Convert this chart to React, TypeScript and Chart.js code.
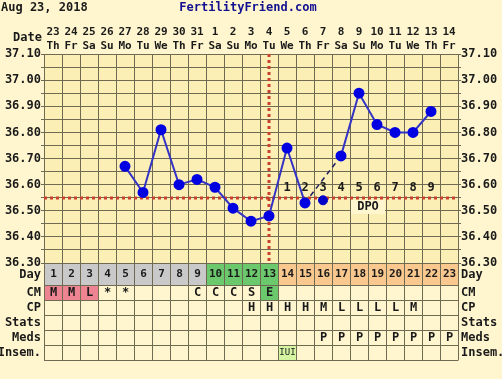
import React, { useEffect, useRef } from 'react';
import { Chart, registerables } from 'chart.js';

Chart.register(...registerables);

// ---------- data ----------
const chartDate = 'Aug 23, 2018';
const siteName = 'FertilityFriend.com';
const dayNumbers = ['1','2','3','4','5','6','7','8','9','10','11','12','13','14','15','16','17','18','19','20','21','22','23'];
const dates = ['23','24','25','26','27','28','29','30','31','1','2','3','4','5','6','7','8','9','10','11','12','13','14'];
const weekdays = ['Th','Fr','Sa','Su','Mo','Tu','We','Th','Fr','Sa','Su','Mo','Tu','We','Th','Fr','Sa','Su','Mo','Tu','We','Th','Fr'];
const temps = [null,null,null,null,36.67,36.57,36.81,36.60,36.62,36.59,36.51,36.46,36.48,36.74,36.53,null,36.71,36.95,36.83,36.80,36.80,36.88,null];
const discardedTemps = [null,null,null,null,null,null,null,null,null,null,null,null,null,null,null,36.54,null,null,null,null,null,null,null];
const bridgeTemps = [null,null,null,null,null,null,null,null,null,null,null,null,null,null,36.53,null,36.71,null,null,null,null,null,null];
const coverline = 36.55;
const ovulationDay = 13;
const dpoLabels = ['1','2','3','4','5','6','7','8','9'];
const dpoStartDay = 14;
const yMin = 36.30;
const yMax = 37.10;
const yStep = 0.05;
const dayPhase = ['p','p','p','p','p','p','p','p','p','f','f','f','f','l','l','l','l','l','l','l','l','l','l'];
const cm = ['M','M','L','*','*','','','','C','C','C','S','E','','','','','','','','','',''];
const cp = ['','','','','','','','','','','','H','H','H','H','M','L','L','L','L','M','',''];
const stats = ['','','','','','','','','','','','','','','','','','','','','','',''];
const meds = ['','','','','','','','','','','','','','','','P','P','P','P','P','P','P','P'];
const insem = ['','','','','','','','','','','','','','IUI','','','','','','','','',''];
const rowLabels = ['Day','CM','CP','Stats','Meds','Insem.'];

// ---------- styles ----------
const PAGE_BG = '#FFF6CF';
const PLOT_BG = '#FCEFB6';
const GRID = '#6F6B52';
const TEXT = '#1a1a1a';
const RED = '#C8412E';
const FONT = 'DejaVu Sans Mono';
const phaseColor: Record<string, string> = { p: '#C9C9C9', f: '#6CC86C', l: '#F8C88E' };

export default function App() {
  const ref = useRef<HTMLCanvasElement | null>(null);

  useEffect(() => {
    document.body.style.margin = '0';
    document.body.style.background = PAGE_BG;
    const canvas = ref.current;
    if (!canvas) return;

    const decor = {
      id: 'ffDecor',
      beforeDraw(chart: any) {
        const { ctx, chartArea: a } = chart;
        ctx.save();
        ctx.fillStyle = PAGE_BG;
        ctx.fillRect(0, 0, chart.width, chart.height);
        ctx.fillStyle = PLOT_BG;
        ctx.fillRect(a.left, a.top, a.right - a.left, a.bottom - a.top);
        ctx.restore();
      },
      beforeDatasetsDraw(chart: any) {
        const { ctx, chartArea: a } = chart;
        const x = chart.scales.x;
        const y = chart.scales.y;
        ctx.save();
        ctx.strokeStyle = RED;
        ctx.lineWidth = 3;
        ctx.setLineDash([3, 3]);
        const cy = Math.round(y.getPixelForValue(coverline));
        ctx.beginPath();
        ctx.moveTo(a.left, cy);
        ctx.lineTo(a.right, cy);
        ctx.stroke();
        const vx = Math.round(x.getPixelForValue(ovulationDay - 1));
        ctx.beginPath();
        ctx.moveTo(vx, a.top);
        ctx.lineTo(vx, a.bottom);
        ctx.stroke();
        ctx.restore();

        // DPO labels
        ctx.save();
        ctx.font = `bold 12px ${FONT}`;
        ctx.fillStyle = TEXT;
        ctx.textAlign = 'center';
        ctx.textBaseline = 'middle';
        dpoLabels.forEach((t, i) => {
          const px = x.getPixelForValue(dpoStartDay - 1 + i);
          ctx.fillText(t, px, cy - 10);
        });
        const mid = (x.getPixelForValue(dpoStartDay - 1) + x.getPixelForValue(dayNumbers.length - 1)) / 2;
        ctx.fillStyle = PAGE_BG;
        ctx.fillRect(mid - 17, cy + 2, 34, 14);
        ctx.fillStyle = TEXT;
        ctx.fillText('DPO', mid, cy + 9);
        ctx.restore();
      },
      afterDraw(chart: any) {
        const { ctx, chartArea: a } = chart;
        const x = chart.scales.x;
        const colW = x.getPixelForValue(1) - x.getPixelForValue(0);
        ctx.save();
        // header
        ctx.font = `bold 12px ${FONT}`;
        ctx.textBaseline = 'middle';
        ctx.textAlign = 'left';
        ctx.fillStyle = TEXT;
        ctx.fillText(chartDate, 1, 8);
        ctx.textAlign = 'center';
        ctx.fillStyle = '#101090';
        ctx.fillText(siteName, 248, 8);
        ctx.textAlign = 'right';
        ctx.fillStyle = TEXT;
        ctx.fillText('Date', 42, 38);

        // table
        const rows = [
          { h: 22, cells: dayNumbers, bg: (i: number) => phaseColor[dayPhase[i]], font: `bold 11px ${FONT}` },
          { h: 15, cells: cm, bg: (i: number) => (cm[i] === 'M' || (cm[i] === 'L' && i < 5)) ? '#EE8492' : (cm[i] === 'E' ? '#6CC86C' : ''), font: `bold 12px ${FONT}` },
          { h: 15, cells: cp, bg: () => '', font: `bold 12px ${FONT}` },
          { h: 15, cells: stats, bg: () => '', font: `bold 12px ${FONT}` },
          { h: 15, cells: meds, bg: () => '', font: `bold 12px ${FONT}` },
          { h: 15, cells: insem, bg: (i: number) => insem[i] ? '#D6F5A2' : '', font: `9px ${FONT}` },
        ];
        let top = Math.round(a.bottom);
        const bounds: number[] = [top];
        rows.forEach((r, ri) => {
          r.cells.forEach((t, i) => {
            const cx = x.getPixelForValue(i);
            const left = Math.round(cx - colW / 2);
            const right = Math.round(cx + colW / 2);
            const c = r.bg(i);
            if (c) {
              ctx.fillStyle = c;
              ctx.fillRect(left, top, right - left, r.h);
            }
            if (t) {
              ctx.fillStyle = TEXT;
              ctx.textAlign = 'center';
              ctx.font = r.font;
              ctx.fillText(t, cx + 0.5, top + r.h / 2 + 0.5);
            }
          });
          ctx.font = `bold 12px ${FONT}`;
          ctx.fillStyle = TEXT;
          ctx.textAlign = 'right';
          ctx.fillText(rowLabels[ri], 41, top + r.h / 2 + 0.5);
          ctx.textAlign = 'left';
          ctx.fillText(rowLabels[ri], 461, top + r.h / 2 + 0.5);
          top += r.h;
          bounds.push(top);
        });
        ctx.strokeStyle = GRID;
        ctx.lineWidth = 1;
        ctx.beginPath();
        bounds.forEach((b) => {
          ctx.moveTo(a.left, b + 0.5);
          ctx.lineTo(a.right, b + 0.5);
        });
        for (let i = 0; i <= dayNumbers.length; i++) {
          const px = Math.round(x.getPixelForValue(i) - colW / 2) + 0.5;
          ctx.moveTo(px, bounds[0]);
          ctx.lineTo(px, bounds[bounds.length - 1] + 0.5);
        }
        ctx.stroke();
        ctx.restore();
      },
    };

    const tickFont = { family: FONT, size: 12, weight: 'bold' as const };
    const yTicks = {
      stepSize: yStep,
      autoSkip: false,
      padding: 0,
      color: TEXT,
      font: tickFont,
      callback: (v: any) => (Math.round(Number(v) * 20) % 2 === 0 ? Number(v).toFixed(2) : ''),
    };

    const chart = new Chart(canvas, {
      type: 'line',
      data: {
        labels: dayNumbers,
        datasets: [
          {
            data: temps as any,
            borderColor: '#3434C4',
            borderWidth: 2,
            pointRadius: 4.5,
            pointBackgroundColor: '#0000E0',
            pointBorderColor: '#0000E0',
            spanGaps: false,
            xAxisID: 'x',
            yAxisID: 'y',
            order: 1,
          },
          {
            data: discardedTemps as any,
            showLine: false,
            pointRadius: 4.5,
            pointBackgroundColor: '#0000C8',
            pointBorderColor: '#0000C8',
            xAxisID: 'x',
            yAxisID: 'y',
            order: 1,
          },
          {
            data: bridgeTemps as any,
            borderColor: '#1c1c60',
            borderWidth: 1.5,
            borderDash: [5, 4],
            pointRadius: 0,
            spanGaps: true,
            xAxisID: 'x',
            yAxisID: 'y',
            order: 2,
          },
        ],
      },
      options: {
        animation: false,
        responsive: false,
        maintainAspectRatio: false,
        layout: { padding: 0 },
        plugins: { legend: { display: false }, title: { display: false }, tooltip: { enabled: false } },
        scales: {
          x: {
            type: 'category',
            position: 'bottom',
            offset: true,
            grid: { color: GRID, offset: true, drawTicks: false, lineWidth: 1 },
            border: { color: GRID },
            ticks: { display: false },
            afterFit: (s: any) => { s.height = 116; },
          },
          xTop: {
            type: 'category',
            position: 'top',
            labels: dates.map((d, i) => [d, weekdays[i]]),
            offset: true,
            grid: { display: false },
            border: { display: false },
            ticks: { autoSkip: false, maxRotation: 0, padding: -7, color: TEXT, font: { family: FONT, size: 11, weight: 'bold', lineHeight: 1.273 } },
            afterFit: (s: any) => { s.height = 54; },
          },
          y: {
            type: 'linear',
            position: 'left',
            min: yMin,
            max: yMax,
            grid: { color: GRID, tickLength: 3, lineWidth: 1 },
            border: { color: GRID },
            ticks: yTicks,
            afterFit: (s: any) => { s.width = 44; },
          },
          y2: {
            type: 'linear',
            position: 'right',
            min: yMin,
            max: yMax,
            grid: { color: GRID, tickLength: 3, drawOnChartArea: false },
            border: { color: GRID },
            ticks: yTicks,
            afterFit: (s: any) => { s.width = 44; },
          },
        },
      } as any,
      plugins: [decor],
    });

    return () => chart.destroy();
  }, []);

  return (
    <div style={{ position: 'absolute', left: 0, top: 0, width: 502, height: 379, background: PAGE_BG }}>
      <canvas ref={ref} width={502} height={379} style={{ display: 'block' }} />
    </div>
  );
}
